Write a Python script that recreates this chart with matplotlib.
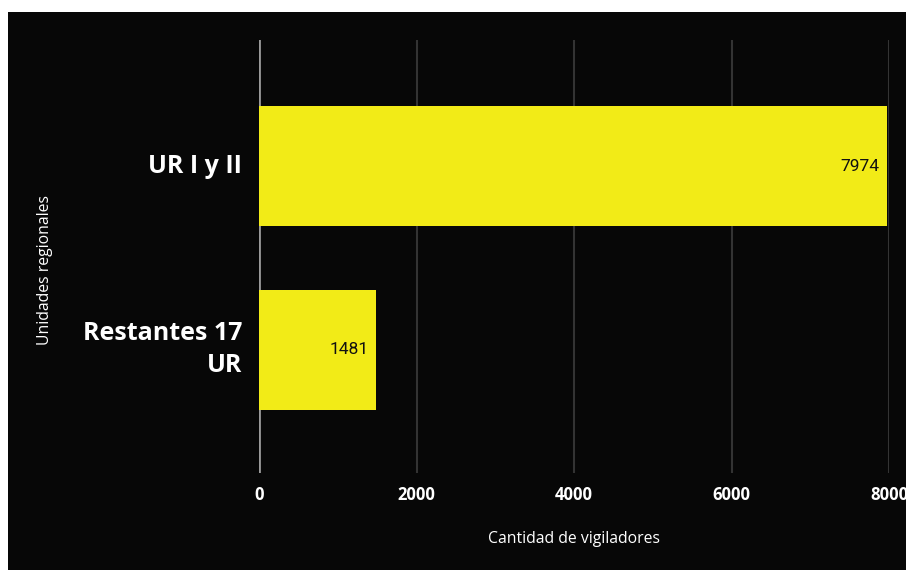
import matplotlib
matplotlib.use("Agg")
import matplotlib.pyplot as plt
from matplotlib.patches import Rectangle

categories = ["UR I y II", "Restantes 17\nUR"]
vigiladores = [7974, 1481]
xticks = [0, 2000, 4000, 6000, 8000]

BG = "#070707"
BAR = "#f2eb17"
W, H = 906, 570

fig = plt.figure(figsize=(W / 100, H / 100), dpi=100, facecolor="white")
fig.patches.append(Rectangle((8 / W, 0), (W - 8) / W, (H - 12) / H,
                             transform=fig.transFigure, facecolor=BG,
                             edgecolor="none", zorder=-10))

ax = fig.add_axes([259 / W, 1 - 473 / H, (889 - 259) / W, (473 - 40) / H])
ax.set_zorder(1)
ax.set_facecolor(BG)

ypos = list(range(len(categories)))
bars = ax.barh(ypos, vigiladores, height=0.654, color=BAR, zorder=3)

for b, v in zip(bars, vigiladores):
    ax.text(v - 90, b.get_y() + b.get_height() / 2, f"{v}",
            ha="right", va="center", fontsize=12.5, family="Roboto",
            color="#111111", zorder=4)

ax.set_xlim(0, 8000)
ax.set_ylim(1.673, -0.687)
ax.set_xticks(xticks)
ax.set_xticklabels([str(t) for t in xticks], family="Open Sans",
                   fontweight="bold", fontsize=12, color="white")
ax.set_yticks(ypos)
ax.set_yticklabels(categories, family="Open Sans", fontweight="bold",
                   fontsize=18, color="white", ha="right", va="center",
                   linespacing=1.35)
ax.tick_params(axis="both", length=0)
ax.tick_params(axis="x", pad=9)
ax.tick_params(axis="y", pad=12)

ax.grid(axis="x", color="#333333", linewidth=1.5, zorder=1)
ax.grid(axis="y", visible=False)
gl = ax.get_xgridlines()
gl[0].set_color("#9a9a9a")
gl[0].set_linewidth(2)
for s in ax.spines.values():
    s.set_visible(False)

ax.set_xlabel("Cantidad de vigiladores", family="Open Sans", fontsize=11.3,
              color="white", labelpad=20)
ax.set_ylabel("Unidades regionales", family="Open Sans", fontsize=11.3,
              color="white")
ax.yaxis.set_label_coords((53 - 259) / (889 - 259), 0.469)

fig.savefig("out.png", dpi=100, facecolor="white")
